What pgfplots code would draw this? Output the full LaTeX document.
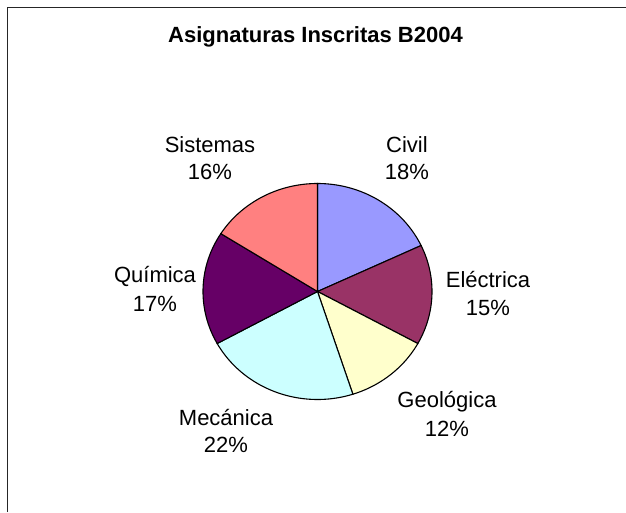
\documentclass[border=0pt]{standalone}
\usepackage{fontspec}
\setmainfont{Liberation Sans}
\usepackage{pgfplots}
\pgfplotsset{compat=1.18}

% colores de la paleta clasica
\definecolor{civil}{HTML}{9999FF}
\definecolor{electrica}{HTML}{993366}
\definecolor{geologica}{HTML}{FFFFCC}
\definecolor{mecanica}{HTML}{CCFFFF}
\definecolor{quimica}{HTML}{660066}
\definecolor{sistemas}{HTML}{FF8080}

\begin{document}
\begin{tikzpicture}[x=1pt,y=1pt]
\path[use as bounding box] (0,0) rectangle (626,512);
% marco (solo se ven el borde superior e izquierdo)
\draw[line width=1.6pt, black!85] (7.5,0) -- (7.5,504.5) -- (626,504.5);

\begin{axis}[
    at={(317.5pt,220.5pt)}, anchor=origin,
    x=114.5pt, y=108pt,
    xmin=-1, xmax=1, ymin=-1, ymax=1,
    hide axis, clip=false,
]
% porcentajes: Civil 18, Electrica 15, Geologica 12, Mecanica 22, Quimica 17, Sistemas 16
% angulos en sentido horario desde las 12 (3.6 grados por punto)
\addplot[fill=civil, draw=black, line width=1.1pt, domain=25.2:90, samples=60, variable=\t]
    ({cos(\t)},{sin(\t)}) -- (axis cs:0,0) -- cycle;
\addplot[fill=electrica, draw=black, line width=1.1pt, domain=-28.8:25.2, samples=60, variable=\t]
    ({cos(\t)},{sin(\t)}) -- (axis cs:0,0) -- cycle;
\addplot[fill=geologica, draw=black, line width=1.1pt, domain=-72:-28.8, samples=60, variable=\t]
    ({cos(\t)},{sin(\t)}) -- (axis cs:0,0) -- cycle;
\addplot[fill=mecanica, draw=black, line width=1.1pt, domain=-151.2:-72, samples=60, variable=\t]
    ({cos(\t)},{sin(\t)}) -- (axis cs:0,0) -- cycle;
\addplot[fill=quimica, draw=black, line width=1.1pt, domain=-212.4:-151.2, samples=60, variable=\t]
    ({cos(\t)},{sin(\t)}) -- (axis cs:0,0) -- cycle;
\addplot[fill=sistemas, draw=black, line width=1.1pt, domain=-270:-212.4, samples=60, variable=\t]
    ({cos(\t)},{sin(\t)}) -- (axis cs:0,0) -- cycle;
\end{axis}

% titulo
\node[anchor=base, font=\fontsize{22}{26}\selectfont\bfseries] at (315.5,469) {Asignaturas Inscritas B2004};

% etiquetas
\begin{scope}[every node/.style={anchor=base, inner sep=0pt, font=\fontsize{22}{26}\selectfont}]
\node at (210,359) {Sistemas};
\node at (210,332) {16\%};
\node at (407,359) {Civil};
\node at (407,332) {18\%};
\node at (488,225) {Eléctrica};
\node at (488,197) {15\%};
\node at (155,230) {Química};
\node at (155,201) {17\%};
\node at (447,105) {Geológica};
\node at (447,76) {12\%};
\node at (226,87) {Mecánica};
\node at (226,60) {22\%};
\end{scope}
\end{tikzpicture}
\end{document}
